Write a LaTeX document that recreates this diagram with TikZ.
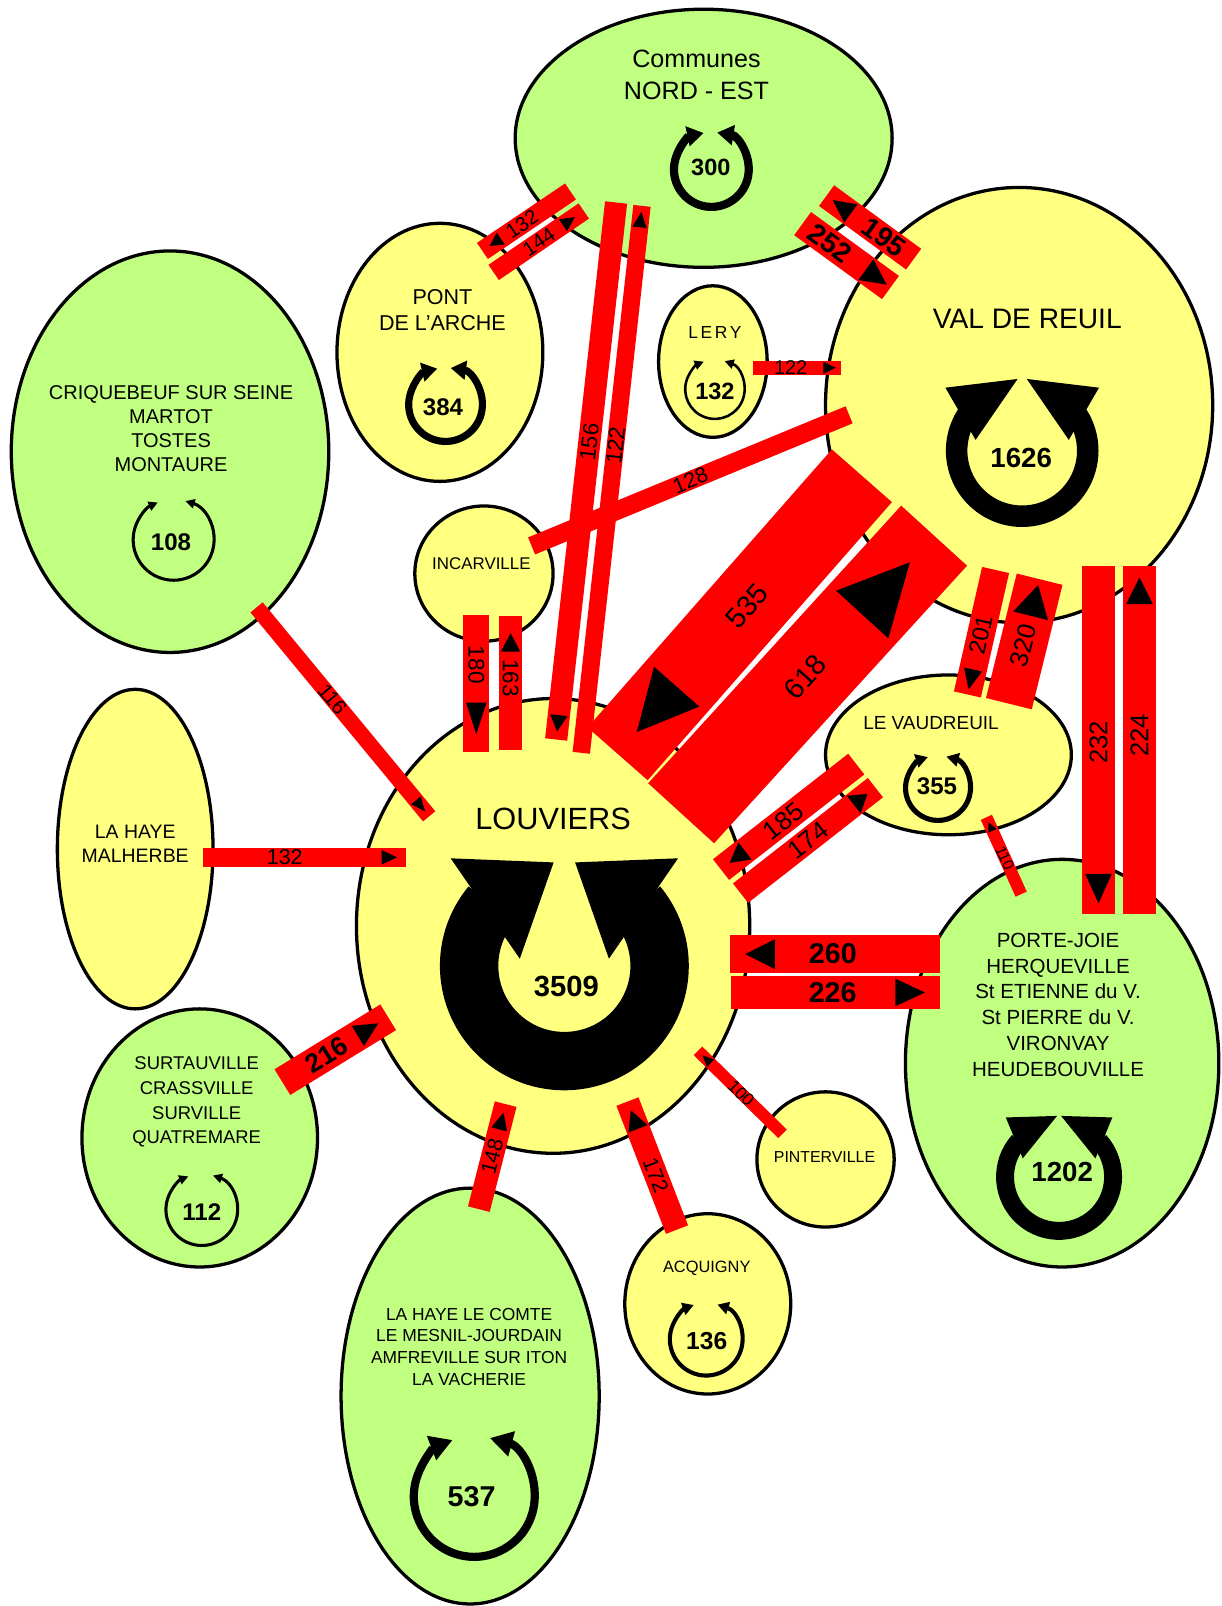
\documentclass[tikz,border=0pt]{standalone}
\usepackage{fontspec}
\setmainfont{Liberation Sans}
\usetikzlibrary{shapes.geometric, decorations.markings, arrows.meta}
\definecolor{lgreen}{RGB}{192,255,128}
\definecolor{lyellow}{RGB}{255,255,128}
\definecolor{fred}{RGB}{255,0,0}
\newcommand\fs[1]{\fontsize{#1}{#1}\selectfont}
\newcommand\smallcyc[8]{%
  \begin{scope}[shift={(#1,#2)}, yscale=-1]
    \draw[line width=#4pt, line cap=butt, {Triangle[length=#7pt,width=#8pt]}-{Triangle[length=#7pt,width=#8pt]}] (#5:#3) arc[start angle=#5, end angle={#6-360}, radius=#3];
  \end{scope}}
\newcommand\bigcyc[8]{%
  \begin{scope}[shift={(#1,#2)}, yscale=-1]
    \draw[line width=#4pt, line cap=butt] (#5:#3) arc[start angle=#5, end angle={540-#5}, radius=#3];
    \fill (#6) -- (#7) -- (#8) -- cycle;
    \begin{scope}[xscale=-1]
      \fill (#6) -- (#7) -- (#8) -- cycle;
    \end{scope}
  \end{scope}}
\tikzset{
  place/.style={ellipse, draw=black, line width=3.2pt, inner sep=0pt, outer sep=0pt},
  gplace/.style={place, fill=lgreen},
  yplace/.style={place, fill=lyellow},
  ptxt/.style={align=center, inner sep=0pt, text=black},
  num/.style={inner sep=0pt, text=black},
  flowbar/.style={draw=fred, line cap=butt},
  lab/.style={inner sep=0pt, text=black},
  tipmark/.style n args={3}{postaction={decorate, decoration={markings, mark=at position #1 with {\fill[black] (#2/2,0) -- (-#2/2,#3/2) -- (-#2/2,-#3/2) -- cycle;}}}},
}
\begin{document}
\begin{tikzpicture}[x=1pt, y=-1pt]
\useasboundingbox (0,0) rectangle (1193,1568);
\fill[white] (0,0) rectangle (1193,1568);

% places
\node[gplace, minimum width=368pt, minimum height=252pt] (nordest) at (687,135) {};
\node[yplace, minimum width=201pt, minimum height=252pt] (pont) at (429.5,344) {};
\node[yplace, minimum width=106pt, minimum height=148pt] (lery) at (696,353) {};
\node[yplace, minimum width=378pt, minimum height=425pt] (vdr) at (995,395.5) {};
\node[gplace, minimum width=310pt, minimum height=392pt] (criq) at (166,441) {};
\node[yplace, minimum width=135pt, minimum height=132pt] (incar) at (472.5,560) {};
\node[yplace, minimum width=240pt, minimum height=156pt] (vaud) at (926,737) {};
\node[yplace, minimum width=384pt, minimum height=444pt] (louv) at (540,904) {};
\node[yplace, minimum width=152pt, minimum height=312pt] (malh) at (132,829) {};
\node[gplace, minimum width=230pt, minimum height=252pt] (surt) at (195,1111) {};
\node[gplace, minimum width=252pt, minimum height=406pt] (comte) at (459,1363) {};
\node[yplace, minimum width=162pt, minimum height=176pt] (acq) at (691,1273) {};
\node[yplace, minimum width=134pt, minimum height=132pt] (pint) at (806,1132) {};
\node[gplace, minimum width=306pt, minimum height=398pt] (porte) at (1037,1038) {};

% place names
\node[ptxt, font={\fontsize{24.5}{32}\selectfont}] (tnordest) at (680,73) {Communes\\NORD - EST};
\node[ptxt, font={\fontsize{21}{25}\selectfont}] (tpont) at (432,302.5) {PONT\\DE L'ARCHE};
\node[ptxt, font=\fs{17}] (tlery) at (698,325) {L\hspace{2.5pt}E\hspace{2.5pt}R\hspace{2.5pt}Y};
\node[ptxt, font=\fs{27.5}] (tvdr) at (1003,311) {VAL DE REUIL};
\node[ptxt, font={\fontsize{19.5}{23.7}\selectfont}] (tcriq) at (167,418.5) {CRIQUEBEUF SUR SEINE\\MARTOT\\TOSTES\\MONTAURE};
\node[ptxt, font=\fs{16.5}] (tincar) at (470,550) {INCARVILLE};
\node[ptxt, font=\fs{18.5}] (tvaud) at (909,706) {LE VAUDREUIL};
\node[ptxt, font=\fs{30}] (tlouv) at (540,800) {LOUVIERS};
\node[ptxt, font={\fontsize{19}{24}\selectfont}] (tmalh) at (132,824) {LA HAYE\\MALHERBE};
\node[ptxt, font={\fontsize{18}{24}\selectfont}] (tsurt) at (192,1076) {SURTAUVILLE\\CRASSVILLE\\SURVILLE\\QUATREMARE};
\node[ptxt, font={\fontsize{17}{21.3}\selectfont}] (tcomte) at (458,1315) {LA HAYE LE COMTE\\LE MESNIL-JOURDAIN\\AMFREVILLE SUR ITON\\LA VACHERIE};
\node[ptxt, font=\fs{16}] (tacq) at (690,1238) {ACQUIGNY};
\node[ptxt, font=\fs{15.5}] (tpint) at (805,1130) {PINTERVILLE};
\node[ptxt, font={\fontsize{20}{25.2}\selectfont}] (tporte) at (1033,981) {PORTE-JOIE\\HERQUEVILLE\\St ETIENNE du V.\\St PIERRE du V.\\VIRONVAY\\HEUDEBOUVILLE};

% internal loops
\smallcyc{694.5}{165.5}{36.5}{8}{81}{102}{16}{19}
\smallcyc{435}{395}{36}{7}{82}{103}{15}{18}
\smallcyc{698}{380}{29}{2.5}{71}{112}{9}{9}
\smallcyc{169.5}{527}{39.5}{3}{73}{113}{9}{9}
\smallcyc{915.8}{769.3}{31.7}{5}{75}{108}{12}{13}
\smallcyc{197}{1181}{35}{3}{72}{112}{9}{9}
\smallcyc{689.5}{1307.5}{35.5}{4}{72}{110}{11}{12}
\smallcyc{463}{1461}{59}{8}{75}{111}{22}{24}
\bigcyc{551}{943}{93}{57}{140}{-10.5,101}{-111,105}{-43.5,7}
\bigcyc{998}{440}{64}{21}{147}{-4.5,70}{-75,61.5}{-45.5,10.5}
\bigcyc{1034}{1149}{52.75}{17.5}{138}{-2,59.5}{-52,58}{-35.5,18}

\node[num, font={\fs{23}\bfseries}] (n300) at (694,163) {300};
\node[num, font={\fs{23.5}\bfseries}] (n384) at (432.5,398) {384};
\node[num, font={\fs{23}\bfseries}] (n132) at (698,382.5) {132};
\node[num, font={\fs{23.5}\bfseries}] (n108) at (167,529) {108};
\node[num, font={\fs{27}\bfseries}] (n1626) at (997,447) {1626};
\node[num, font={\fs{23.5}\bfseries}] (n355) at (914.8,768) {355};
\node[num, font={\fs{28.5}\bfseries}] (n3509) at (553,963) {3509};
\node[num, font={\fs{23.5}\bfseries}] (n112) at (197,1183) {112};
\node[num, font={\fs{28}\bfseries}] (n537) at (460.5,1461) {537};
\node[num, font={\fs{24}\bfseries}] (n136) at (690,1309) {136};
\node[num, font={\fs{27}\bfseries}] (n1202) at (1037,1144) {1202};

% flows
\coordinate (p1s) at (557,187); \coordinate (p1e) at (471,245);
\draw[flowbar, line width=19pt, tipmark={0.855}{13}{14}] (p1s) -- (p1e) node[lab, pos=0.55, rotate=34, font=\fs{20}] (f132p) {132};
\coordinate (p2s) at (482,266); \coordinate (p2e) at (570,206);
\draw[flowbar, line width=18pt, tipmark={0.835}{14}{14}] (p2s) -- (p2e) node[lab, pos=0.5, rotate=34, font=\fs{20}] (f144) {144};

\coordinate (v1s) at (892,253); \coordinate (v1e) at (807,191);
\draw[flowbar, line width=25pt, tipmark={0.825}{22}{22}] (v1s) -- (v1e) node[lab, pos=0.34, rotate=-36, font={\fs{27}\bfseries}] (f195) {195};
\coordinate (v2s) at (783.6,218.3); \coordinate (v2e) at (869.4,280.7);
\draw[flowbar, line width=28pt, tipmark={0.84}{25}{25}] (v2s) -- (v2e) node[lab, pos=0.31, rotate=-36, font={\fs{27}\bfseries}] (f252) {252};

\coordinate (l1s) at (735,359); \coordinate (l1e) at (821,359);
\draw[flowbar, line width=14pt, tipmark={0.87}{12}{12}] (l1s) -- (l1e) node[lab, pos=0.43, font=\fs{19.5}] (f122l) {122};

\coordinate (i1s) at (519,533); \coordinate (i1e) at (829,405);
\draw[flowbar, line width=18pt] (i1s) -- (i1e) node[lab, pos=0.5, rotate=22.4, font=\fs{21}] (f128) {128};

\coordinate (c1s) at (601.5,197.7); \coordinate (c1e) at (543,722);
\draw[flowbar, line width=21.7pt, tipmark={0.97}{16}{17}] (c1s) -- (c1e) node[lab, pos=0.446, rotate=83.6, font=\fs{22}] (f156) {156};
\coordinate (c2s) at (567.5,735); \coordinate (c2e) at (626.8,201);
\draw[flowbar, line width=17pt, tipmark={0.975}{15}{14}] (c2s) -- (c2e) node[lab, pos=0.562, rotate=83.6, font=\fs{22}] (f122c) {122};

\coordinate (k1s) at (465,600); \coordinate (k1e) at (465,734);
\draw[flowbar, line width=25pt, tipmark={0.757}{31}{20}] (k1s) -- (k1e) node[lab, pos=0.366, rotate=-90, font=\fs{22}] (f180) {180};
\coordinate (k2s) at (498.5,732); \coordinate (k2e) at (498.5,601);
\draw[flowbar, line width=23pt, tipmark={0.80}{18}{19}] (k2s) -- (k2e) node[lab, pos=0.534, rotate=-90, font=\fs{22}] (f163) {163};

\coordinate (q1s) at (250.5,593); \coordinate (q1e) at (419,797);
\draw[flowbar, line width=15.5pt, tipmark={0.95}{14}{12}] (q1s) -- (q1e) node[lab, pos=0.44, rotate=-50.4, font=\fs{20}] (f116) {116};

\coordinate (m1s) at (198,837); \coordinate (m1e) at (396,837);
\draw[flowbar, line width=19pt, tipmark={0.92}{15}{14}] (m1s) -- (m1e) node[lab, pos=0.404, font=\fs{21}] (f132m) {132};

\coordinate (r1s) at (841.5,464.5); \coordinate (r1e) at (603,736);
\draw[flowbar, line width=78pt, tipmark={0.84}{59}{59}] (r1s) -- (r1e) node[lab, pos=0.47, rotate=48.7, font=\fs{28}] (f535) {535};
\coordinate (r2s) at (665,794); \coordinate (r2e) at (912,523);
\draw[flowbar, line width=87pt, tipmark={0.81}{69}{69}] (r2s) -- (r2e) node[lab, pos=0.49, rotate=47.7, font=\fs{28}] (f618) {618};

\coordinate (d1s) at (972,556.5); \coordinate (d1e) at (944.5,678);
\draw[flowbar, line width=27pt, tipmark={0.88}{20}{18}] (d1s) -- (d1e) node[lab, pos=0.52, rotate=77.3, font=\fs{23}] (f201) {201};
\coordinate (d2s) at (985,687); \coordinate (d2e) at (1015,565.5);
\draw[flowbar, line width=46pt, tipmark={0.83}{31}{35}] (d2s) -- (d2e) node[lab, pos=0.47, rotate=76.1, font=\fs{25}] (f320) {320};

\coordinate (e1s) at (1072.5,553); \coordinate (e1e) at (1072.5,892);
\draw[flowbar, line width=32.5pt, tipmark={0.928}{29}{26}] (e1s) -- (e1e) node[lab, pos=0.507, rotate=90, font=\fs{25}] (f232) {232};
\coordinate (e2s) at (1112.5,892); \coordinate (e2e) at (1112.5,553);
\draw[flowbar, line width=32pt, tipmark={0.93}{26}{26}] (e2s) -- (e2e) node[lab, pos=0.513, rotate=90, font=\fs{25}] (f224) {224};

\coordinate (g1s) at (836,746); \coordinate (g1e) at (704,849);
\draw[flowbar, line width=25.6pt, tipmark={0.88}{19}{21}] (g1s) -- (g1e) node[lab, pos=0.54, rotate=38, font=\fs{25}] (f185) {185};
\coordinate (g2s) at (723,872); \coordinate (g2e) at (854.7,769);
\draw[flowbar, line width=24pt, tipmark={0.89}{17}{22}] (g2s) -- (g2e) node[lab, pos=0.50, rotate=38, font=\fs{25}] (f174) {174};

\coordinate (h1s) at (917.7,931.5); \coordinate (h1e) at (712.7,931.5);
\draw[flowbar, line width=37pt, tipmark={0.857}{29}{29}] (h1s) -- (h1e) node[lab, pos=0.51, font={\fs{28}\bfseries}] (f260) {260};
\coordinate (h2s) at (714,969); \coordinate (h2e) at (917.7,969);
\draw[flowbar, line width=32pt, tipmark={0.857}{29}{27}] (h2s) -- (h2e) node[lab, pos=0.486, font={\fs{28}\bfseries}] (f226) {226};

\coordinate (j1s) at (997,873); \coordinate (j1e) at (963,798);
\draw[flowbar, line width=12pt, tipmark={0.88}{9}{9}] (j1s) -- (j1e) node[lab, pos=0.47, rotate=-65.6, font=\fs{15}] (f110) {110};

\coordinate (s1s) at (275.7,1056.5); \coordinate (s1e) at (379,993.2);
\draw[flowbar, line width=29.4pt, tipmark={0.81}{23.5}{23}] (s1s) -- (s1e) node[lab, pos=0.42, rotate=31.5, font={\fs{26}\bfseries}] (f216) {216};

\coordinate (o1s) at (467.5,1180.5); \coordinate (o1e) at (493.7,1078);
\draw[flowbar, line width=21.9pt, tipmark={0.84}{17}{16}] (o1s) -- (o1e) node[lab, pos=0.5, rotate=75.7, font=\fs{21}] (f148) {148};

\coordinate (a1s) at (661,1200.5); \coordinate (a1e) at (612.6,1075.5);
\draw[flowbar, line width=23.1pt, tipmark={0.86}{19.5}{20}] (a1s) -- (a1e) node[lab, pos=0.426, rotate=-68.8, font=\fs{21}] (f172) {172};

\coordinate (t1s) at (764,1107); \coordinate (t1e) at (681.5,1026);
\draw[flowbar, line width=11.8pt, tipmark={0.9}{11}{10}] (t1s) -- (t1e) node[lab, pos=0.49, rotate=-44.5, font=\fs{17}] (f100) {100};

\end{tikzpicture}
\end{document}
